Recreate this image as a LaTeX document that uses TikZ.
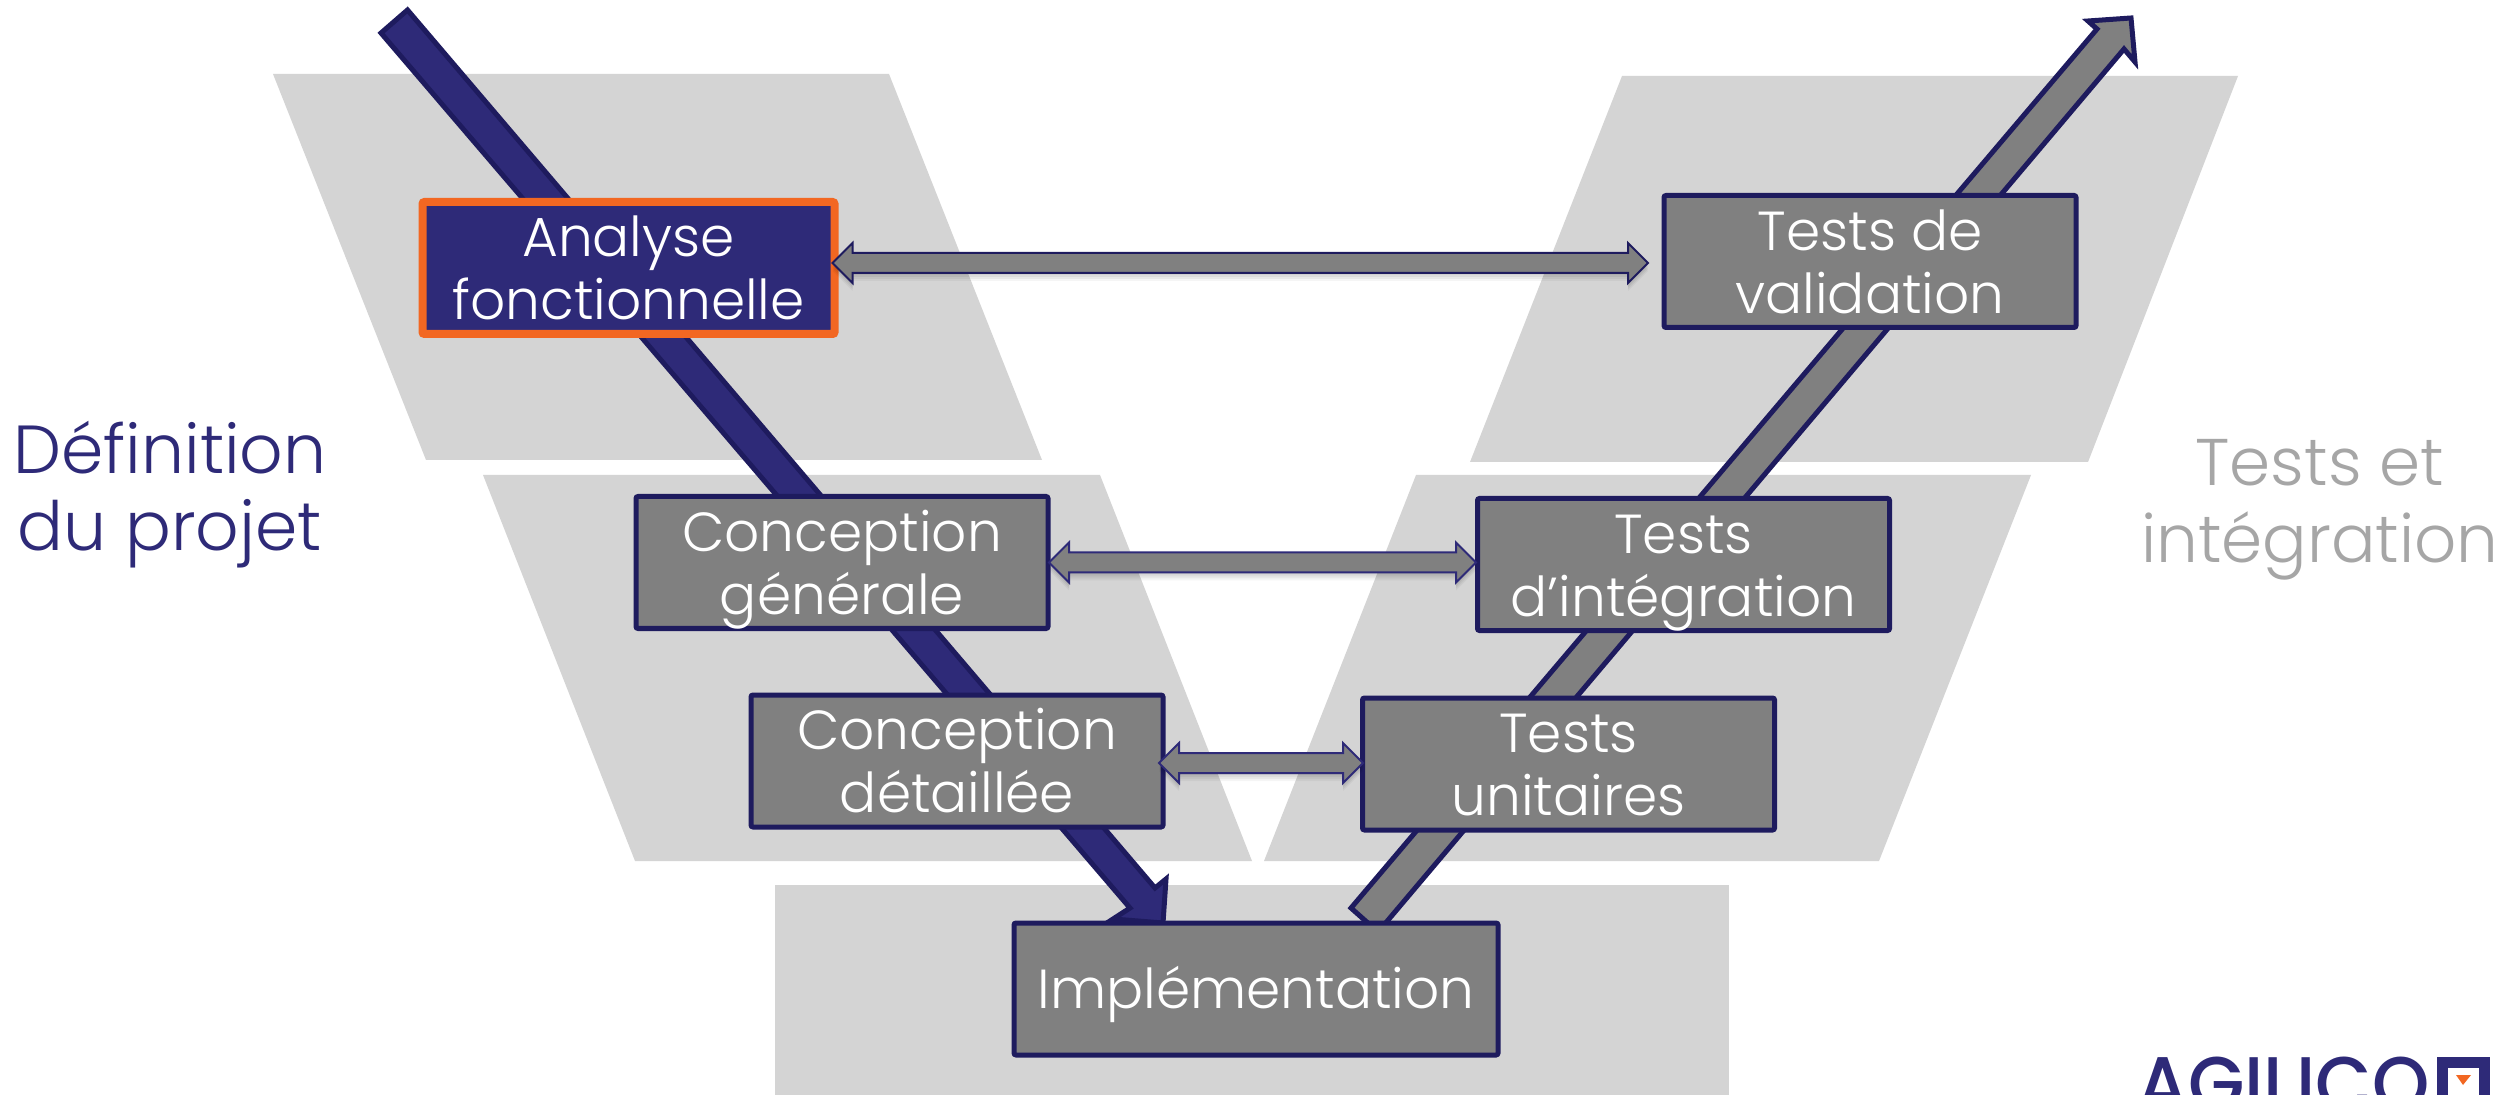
\documentclass[tikz,border=0pt]{standalone}
\usepackage{fontspec}
\setmainfont{Poppins}[UprightFont={* Light}]
\newfontfamily\logofont{Poppins}[UprightFont={* Medium}]
\usetikzlibrary{calc}
\definecolor{navyfill}{HTML}{2E2A78}
\definecolor{navyline}{HTML}{1E1B5E}
\definecolor{boxgrey}{HTML}{808080}
\definecolor{bandgrey}{HTML}{D4D4D4}
\definecolor{accent}{HTML}{F26722}
\definecolor{softgrey}{HTML}{A6A6A6}
\tikzset{
  band/.style={fill=bandgrey,draw=none},
  phase/.style={draw=navyline,fill=boxgrey,line width=2.5pt,rounded corners=1pt,inner sep=0pt,outer sep=0pt,
    minimum width=206pt,minimum height=66pt,text=white,align=center,font=\fontsize{27.5pt}{31.5pt}\selectfont,
    text height=53.6pt,text depth=2pt},
  active/.style={phase,draw=accent,fill=navyfill,line width=4pt},
  single/.style={text height=20pt,text depth=1pt},
  sidelabel/.style={align=center,inner sep=0pt,font=\fontsize{34pt}{38.5pt}\selectfont,text height=30pt,text depth=30pt},
  link/.style={fill=boxgrey,line width=1pt,line join=miter},
}
% double block arrow between two named tips: tip, head length 20, half head 20, half shaft 10
\newcommand{\dblblock}[3]{%
  \foreach \sh/\op in {2/.05,4/.05,6/.05,8/.04}{
    \fill[black,opacity=\op] ($(#1)+(20,-10+\sh)$) -- ($(#2)+(-20,-10+\sh)$) -- ($(#2)+(-20,-20+\sh)$) -- ($(#2)+(0,\sh)$) -- ($(#2)+(-20,20+\sh)$) -- ($(#2)+(-20,10+\sh)$) -- ($(#1)+(20,10+\sh)$) -- ($(#1)+(20,20+\sh)$) -- ($(#1)+(0,\sh)$) -- ($(#1)+(20,-20+\sh)$) -- cycle;
  }
  \draw[link,draw=#3] ($(#1)+(20,-10)$) -- ($(#2)+(-20,-10)$) -- ($(#2)+(-20,-20)$) -- (#2) -- ($(#2)+(-20,20)$) -- ($(#2)+(-20,10)$) -- ($(#1)+(20,10)$) -- ($(#1)+(20,20)$) -- (#1) -- ($(#1)+(20,-20)$) -- cycle;
}
\begin{document}
\begin{tikzpicture}[x=0.5pt,y=-0.5pt]
\clip (0,0) rectangle (2514,1095);
\fill[white] (0,0) rectangle (2514,1095);
% background bands
\fill[band] (273,74) -- (889,74) -- (1042,460) -- (426,460) -- cycle;
\fill[band] (1622,76) -- (2238,76) -- (2088,462) -- (1470,462) -- cycle;
\fill[band] (483,475) -- (1100,475) -- (1252,861) -- (635,861) -- cycle;
\fill[band] (1416,475) -- (2031,475) -- (1879,861) -- (1264,861) -- cycle;
\fill[band] (775,885) rectangle (1729,1095);
% V arrows
\draw[navyline,fill=navyfill,line width=2.5pt,line join=miter]
  (407.5,10) -- (1155,888) -- (1166,879) -- (1163,923) -- (1113,919) -- (1130,908) -- (381,33) -- cycle;
\draw[navyline,fill=boxgrey,line width=2.5pt,line join=miter]
  (1351,908) -- (2097,29) -- (2088,21) -- (2131,18) -- (2135,62) -- (2124,49) -- (1378,932) -- cycle;
% phases
\node[active] (analyse) at (628.5,268) {Analyse\\fonctionnelle};
\node[phase] (validation) at (1870,261.5) {Tests de\\validation};
\node[phase] (generale) at (842,562.5) {Conception\\générale};
\node[phase] (integration) at (1683.5,564.5) {Tests\\d’intégration};
\node[phase] (detaillee) at (957,761) {Conception\\détaillée};
\node[phase] (unitaires) at (1568.5,764) {Tests\\unitaires};
\node[phase,single,minimum width=242pt] (implementation) at (1256,989) {Implémentation};
% links
\coordinate (la) at ($(analyse.east)+(-2,-5)$);
\coordinate (ra) at ($(validation.west)+(-16,1.5)$);
\coordinate (lb) at ($(generale.east)+(1,0)$);
\coordinate (rb) at ($(integration.west)+(-1.5,-2)$);
\coordinate (lc) at ($(detaillee.east)+(-4,2)$);
\coordinate (rc) at ($(unitaires.west)+(0.5,-1)$);
\dblblock{la}{ra}{navyline}
\dblblock{lb}{rb}{navyfill}
\dblblock{lc}{rc}{navyfill}
% side labels
\node[sidelabel,text=navyfill] (definition) at (170,551) {Définition\\du projet};
\node[sidelabel,text=softgrey,font=\fontsize{33pt}{38.5pt}\selectfont] (tests) at (2320,563) {Tests et\\intégration};
% logo
\node[anchor=base west,inner sep=0pt,text=navyfill,font=\logofont\fontsize{38pt}{38pt}\selectfont] (logo) at (2137,1110) {\scalebox{.96}[1]{AGILICO}};
\draw[navyfill,line width=5.5pt,line cap=butt] (2442,1100) -- (2442,1062.5) -- (2484,1062.5) -- (2484,1100);
\fill[accent] (2456,1075) -- (2471,1075) -- (2463,1085) -- cycle;
\end{tikzpicture}
\end{document}
